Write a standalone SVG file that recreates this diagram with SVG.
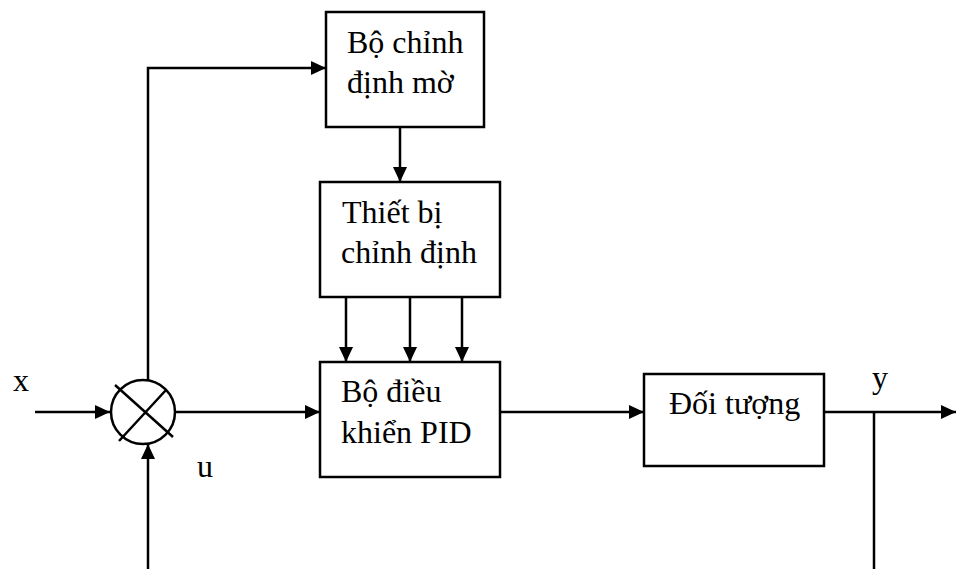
<svg xmlns="http://www.w3.org/2000/svg" width="956" height="569" viewBox="0 0 956 569">
  <style>
    .box { fill: #fff; stroke: #000; stroke-width: 2.5; }
    .ln { fill: none; stroke: #000; stroke-width: 2.5; }
    .arr { fill: none; stroke: #000; stroke-width: 2.5; marker-end: url(#ah); }
    text { font-family: "Liberation Serif", "Times New Roman", serif; font-size: 32px; fill: #000; }
  </style>
  <defs>
    <marker id="ah" viewBox="0 0 15 14" refX="15" refY="7" markerWidth="15" markerHeight="14" markerUnits="userSpaceOnUse" orient="auto">
      <path d="M0,0 L15,7 L0,14 Z" fill="#000"/>
    </marker>
  </defs>

  <g id="connectors">
    <!-- input x into summing junction -->
    <path class="arr" d="M35,412 L110,412"/>
    <!-- feedback from below into junction -->
    <path class="arr" d="M148,569 L148,444"/>
    <!-- junction up and over to fuzzy tuner -->
    <path class="arr" d="M148,381 L148,68 L326,68"/>
    <!-- fuzzy tuner to tuning device -->
    <path class="arr" d="M400,127 L400,182"/>
    <!-- tuning device to PID (three parameters) -->
    <path class="arr" d="M346,297 L346,362"/>
    <path class="arr" d="M410,297 L410,362"/>
    <path class="arr" d="M462,297 L462,362"/>
    <!-- junction to PID -->
    <path class="arr" d="M176,412 L320,412"/>
    <!-- PID to plant -->
    <path class="arr" d="M500,412 L644,412"/>
    <!-- plant output y -->
    <path class="arr" d="M824,412 L956,412"/>
    <!-- output feedback tap -->
    <path class="ln" d="M874,412 L874,569"/>
  </g>

  <g id="junction">
    <circle class="box" cx="143" cy="412" r="32"/>
    <path class="ln" d="M115,385 L173,437 M166,390 L119,441"/>
  </g>

  <g id="fuzzy-tuner">
    <rect class="box" x="326" y="12" width="158" height="115"/>
    <text x="347" y="53">Bộ chỉnh</text>
    <text x="347" y="93">định mờ</text>
  </g>

  <g id="tuning-device">
    <rect class="box" x="320" y="182" width="180" height="115"/>
    <text x="342" y="223">Thiết bị</text>
    <text x="341" y="263">chỉnh định</text>
  </g>

  <g id="pid">
    <rect class="box" x="320" y="362" width="180" height="115"/>
    <text x="341" y="402">Bộ điều</text>
    <text x="341" y="443">khiển PID</text>
  </g>

  <g id="plant">
    <rect class="box" x="644" y="374" width="180" height="92"/>
    <text x="669" y="414">Đối tượng</text>
  </g>

  <g id="labels">
    <text x="13" y="391">x</text>
    <text x="197" y="477">u</text>
    <text x="872" y="388">y</text>
  </g>
</svg>
